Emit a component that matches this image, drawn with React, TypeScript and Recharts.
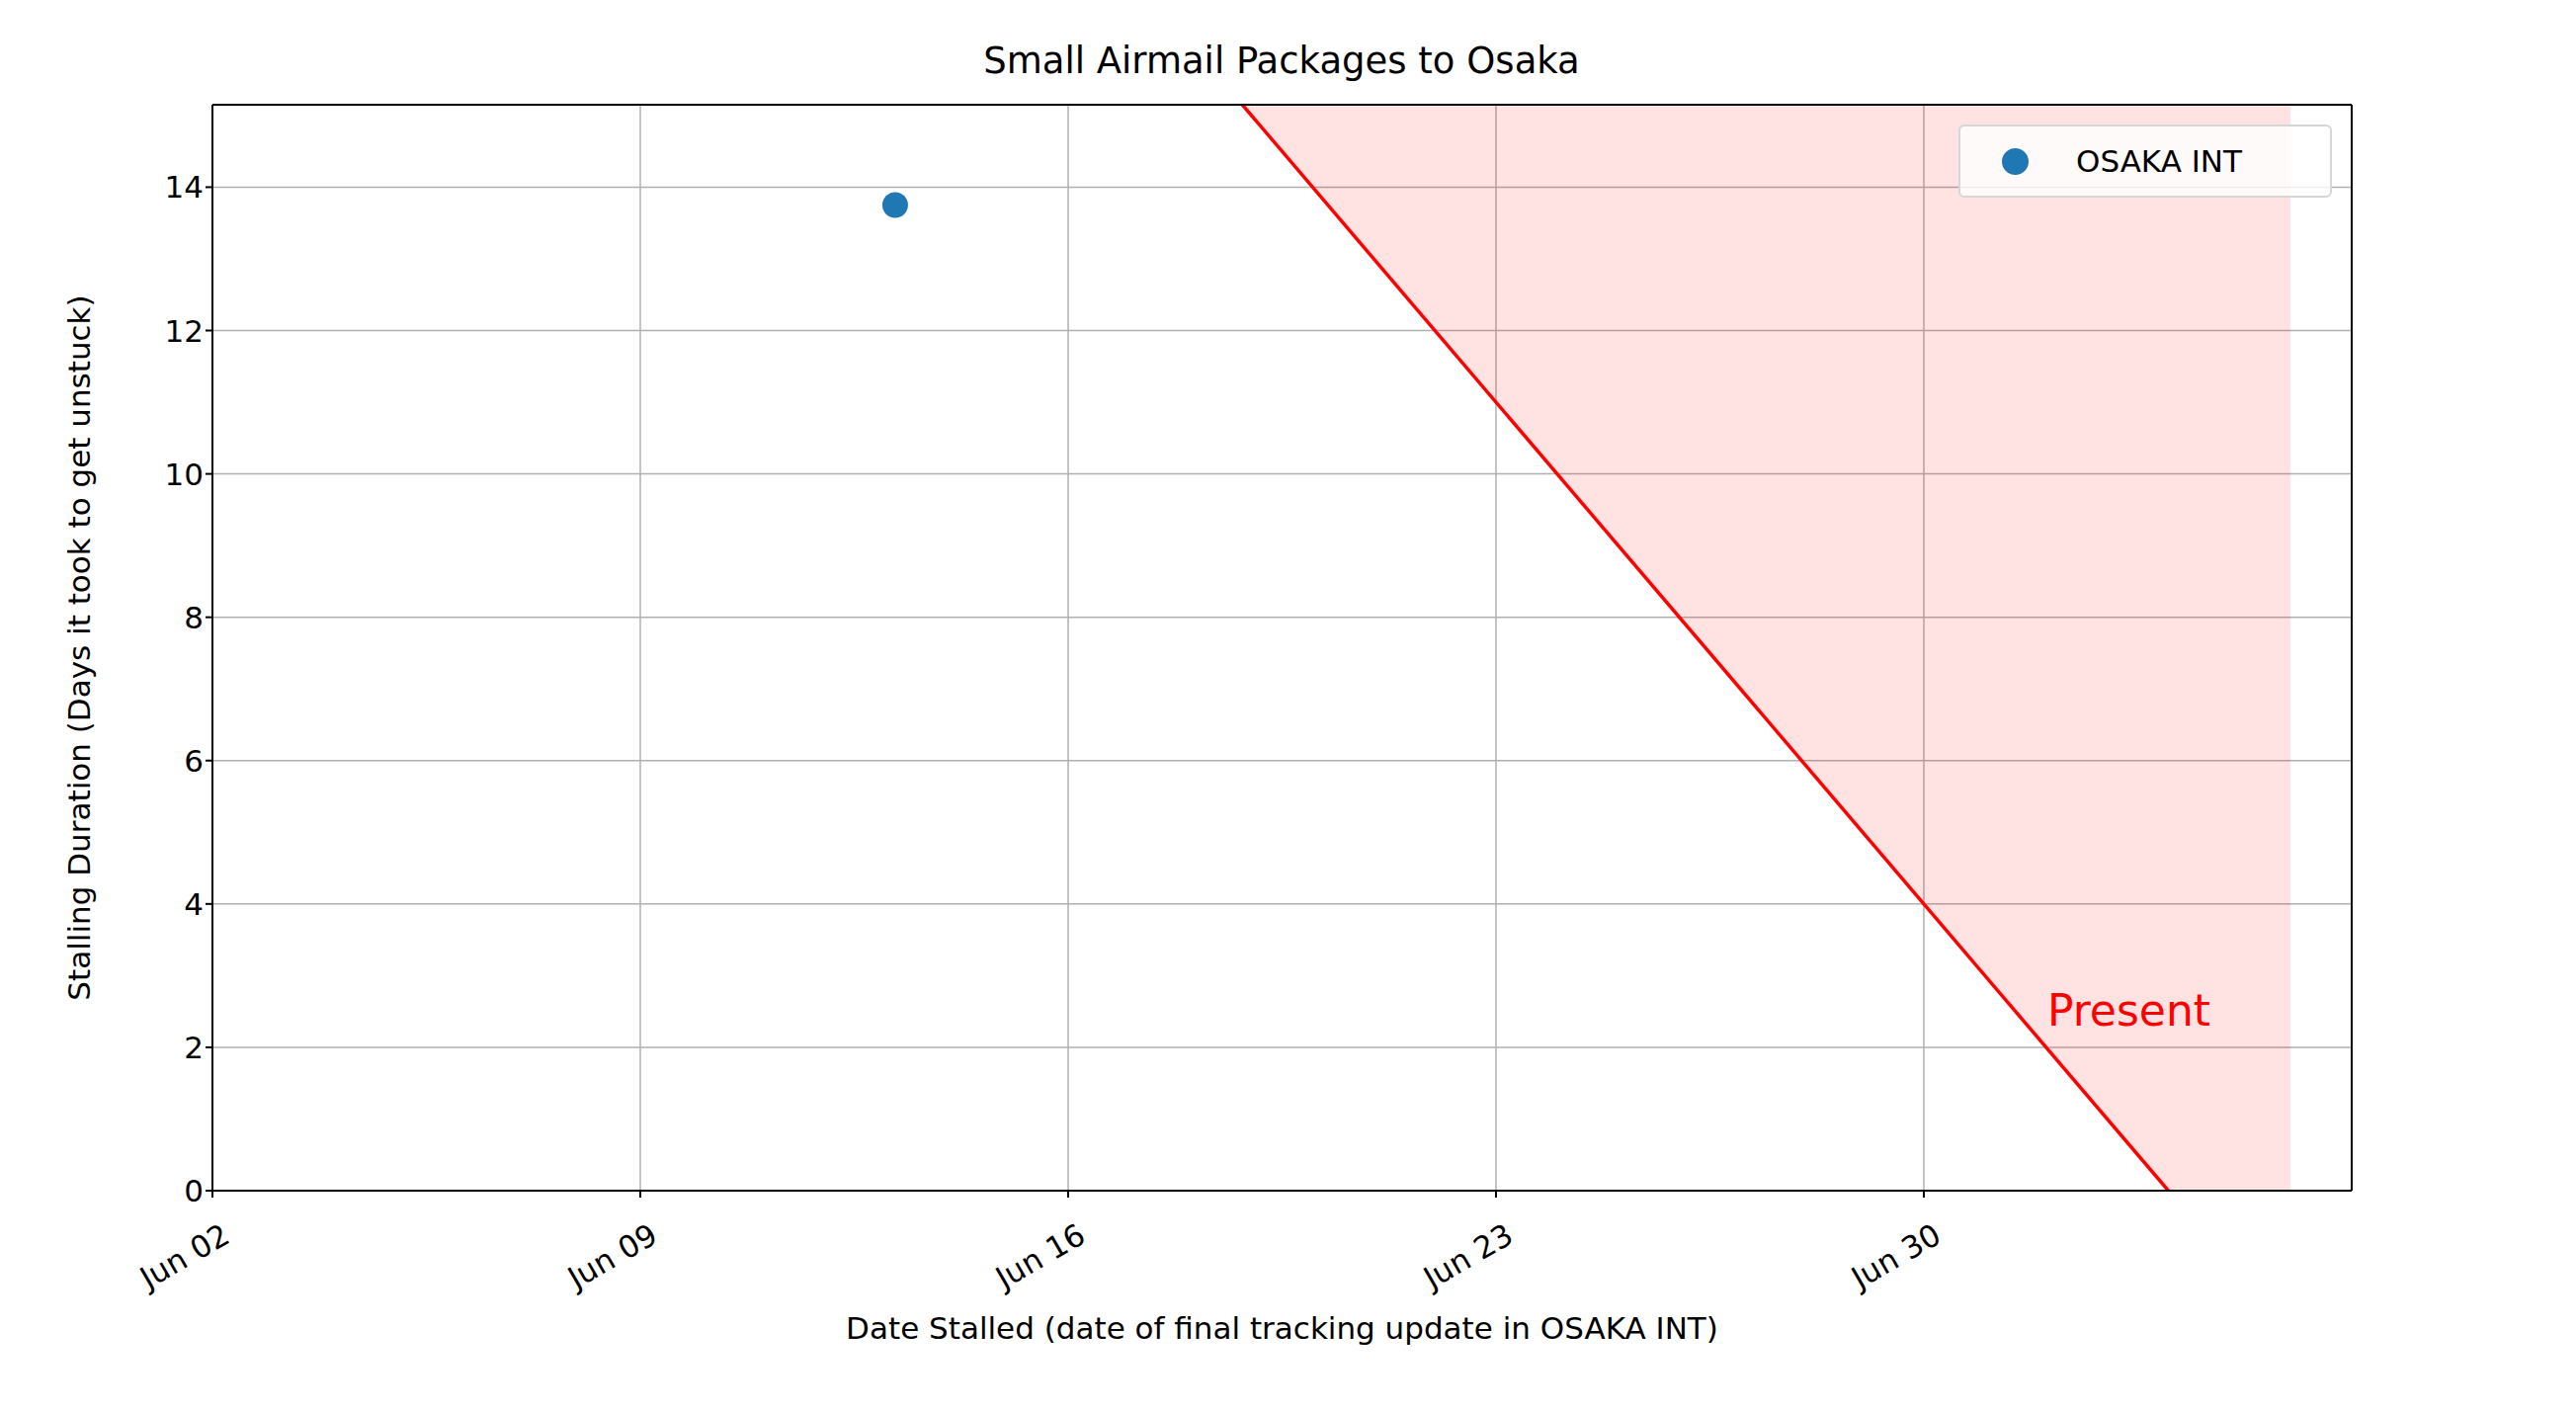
import React from 'react';
import { ComposedChart, XAxis, YAxis, CartesianGrid, Scatter, Line, Area, ReferenceLine, ReferenceDot } from 'recharts';

const tickDays = [0, 7, 14, 21, 28];
const tickLabels = ['Jun 02', 'Jun 09', 'Jun 16', 'Jun 23', 'Jun 30'];
const yTicks = [0, 2, 4, 6, 8, 10, 12, 14];
const points = [{ day: 11.17, dur: 13.75 }];
const presentLine = [{ day: 16.85, dur: 15.15 }, { day: 32, dur: 0 }];
const shade = [
  { day: 16.85, band: [15.15, 15.15] },
  { day: 32, band: [0, 15.15] },
  { day: 34, band: [0, 15.15] },
];
const X_MAX = 35;
const Y_MAX = 15.15;
const FONT = 'DejaVu Sans';

const XTick = (p: any) => {
  const i = tickDays.indexOf(p.payload.value);
  const ax = p.x + 8;
  const ay = p.y + 22;
  return (
    <text x={ax} y={ay} transform={`rotate(-30 ${ax} ${ay})`} textAnchor="end" dominantBaseline="hanging" fontSize={31} fontFamily={FONT} fill="#000">
      {tickLabels[i]}
    </text>
  );
};

export default function App() {
  if (typeof document !== 'undefined') document.body.style.margin = '0';
  return (
    <div style={{ position: 'relative', width: 2607, height: 1430, background: '#fff', fontFamily: FONT }}>
      <div style={{ position: 'absolute', top: 40, left: 1297, transform: 'translateX(-50%)', whiteSpace: 'nowrap', fontSize: 37 }}>
        Small Airmail Packages to Osaka
      </div>
      <ComposedChart width={2607} height={1430} margin={{ top: 106, right: 227, bottom: 0, left: 0 }}>
        <CartesianGrid stroke="#b0b0b0" strokeWidth={1.5} />
        <XAxis type="number" dataKey="day" domain={[0, X_MAX]} ticks={tickDays} allowDataOverflow height={225}
          tick={<XTick />} stroke="#000" strokeWidth={2} tickSize={7}
          label={{ value: 'Date Stalled (date of final tracking update in OSAKA INT)', position: 'insideTop', offset: 128, fontSize: 31, fill: '#000', fontFamily: FONT }} />
        <YAxis type="number" domain={[0, Y_MAX]} ticks={yTicks} allowDataOverflow width={215}
          tick={{ fontSize: 31, fill: '#000', fontFamily: FONT }} stroke="#000" strokeWidth={2} tickSize={7}
          label={{ value: 'Stalling Duration (Days it took to get unstuck)', angle: -90, position: 'insideLeft', offset: 80, fontSize: 31, fill: '#000', fontFamily: FONT, style: { textAnchor: 'middle' } }} />
        <Area data={shade} dataKey="band" type="linear" fill="#ff0000" fillOpacity={0.11} stroke="none" isAnimationActive={false} />
        <Line data={presentLine} dataKey="dur" type="linear" stroke="#ff0000" strokeWidth={3.5} dot={false} isAnimationActive={false} />
        <Scatter data={points} dataKey="dur" fill="#1f77b4" isAnimationActive={false}
          shape={(p: any) => <circle cx={p.cx} cy={p.cy} r={13} fill="#1f77b4" />} />
        <ReferenceLine y={Y_MAX} stroke="#000" strokeWidth={2} />
        <ReferenceLine x={X_MAX} stroke="#000" strokeWidth={2} />
        <ReferenceDot x={30.02} y={2.52} r={0} stroke="none" fill="none"
          label={(p: any) => <text x={p.viewBox.x} y={p.viewBox.y} dy={16} fontSize={44} fill="#ff0000" fontFamily={FONT}>Present</text>} />
      </ComposedChart>
      <div style={{ position: 'absolute', left: 1982, top: 126, width: 378, height: 74, boxSizing: 'border-box', border: '2px solid #d6d6d6', borderRadius: 6, background: 'rgba(255,255,255,0.8)', display: 'flex', alignItems: 'center', fontSize: 31 }}>
        <span style={{ display: 'inline-block', width: 27, height: 27, borderRadius: 14, background: '#1f77b4', marginLeft: 42 }} />
        <span style={{ marginLeft: 48 }}>OSAKA INT</span>
      </div>
    </div>
  );
}
